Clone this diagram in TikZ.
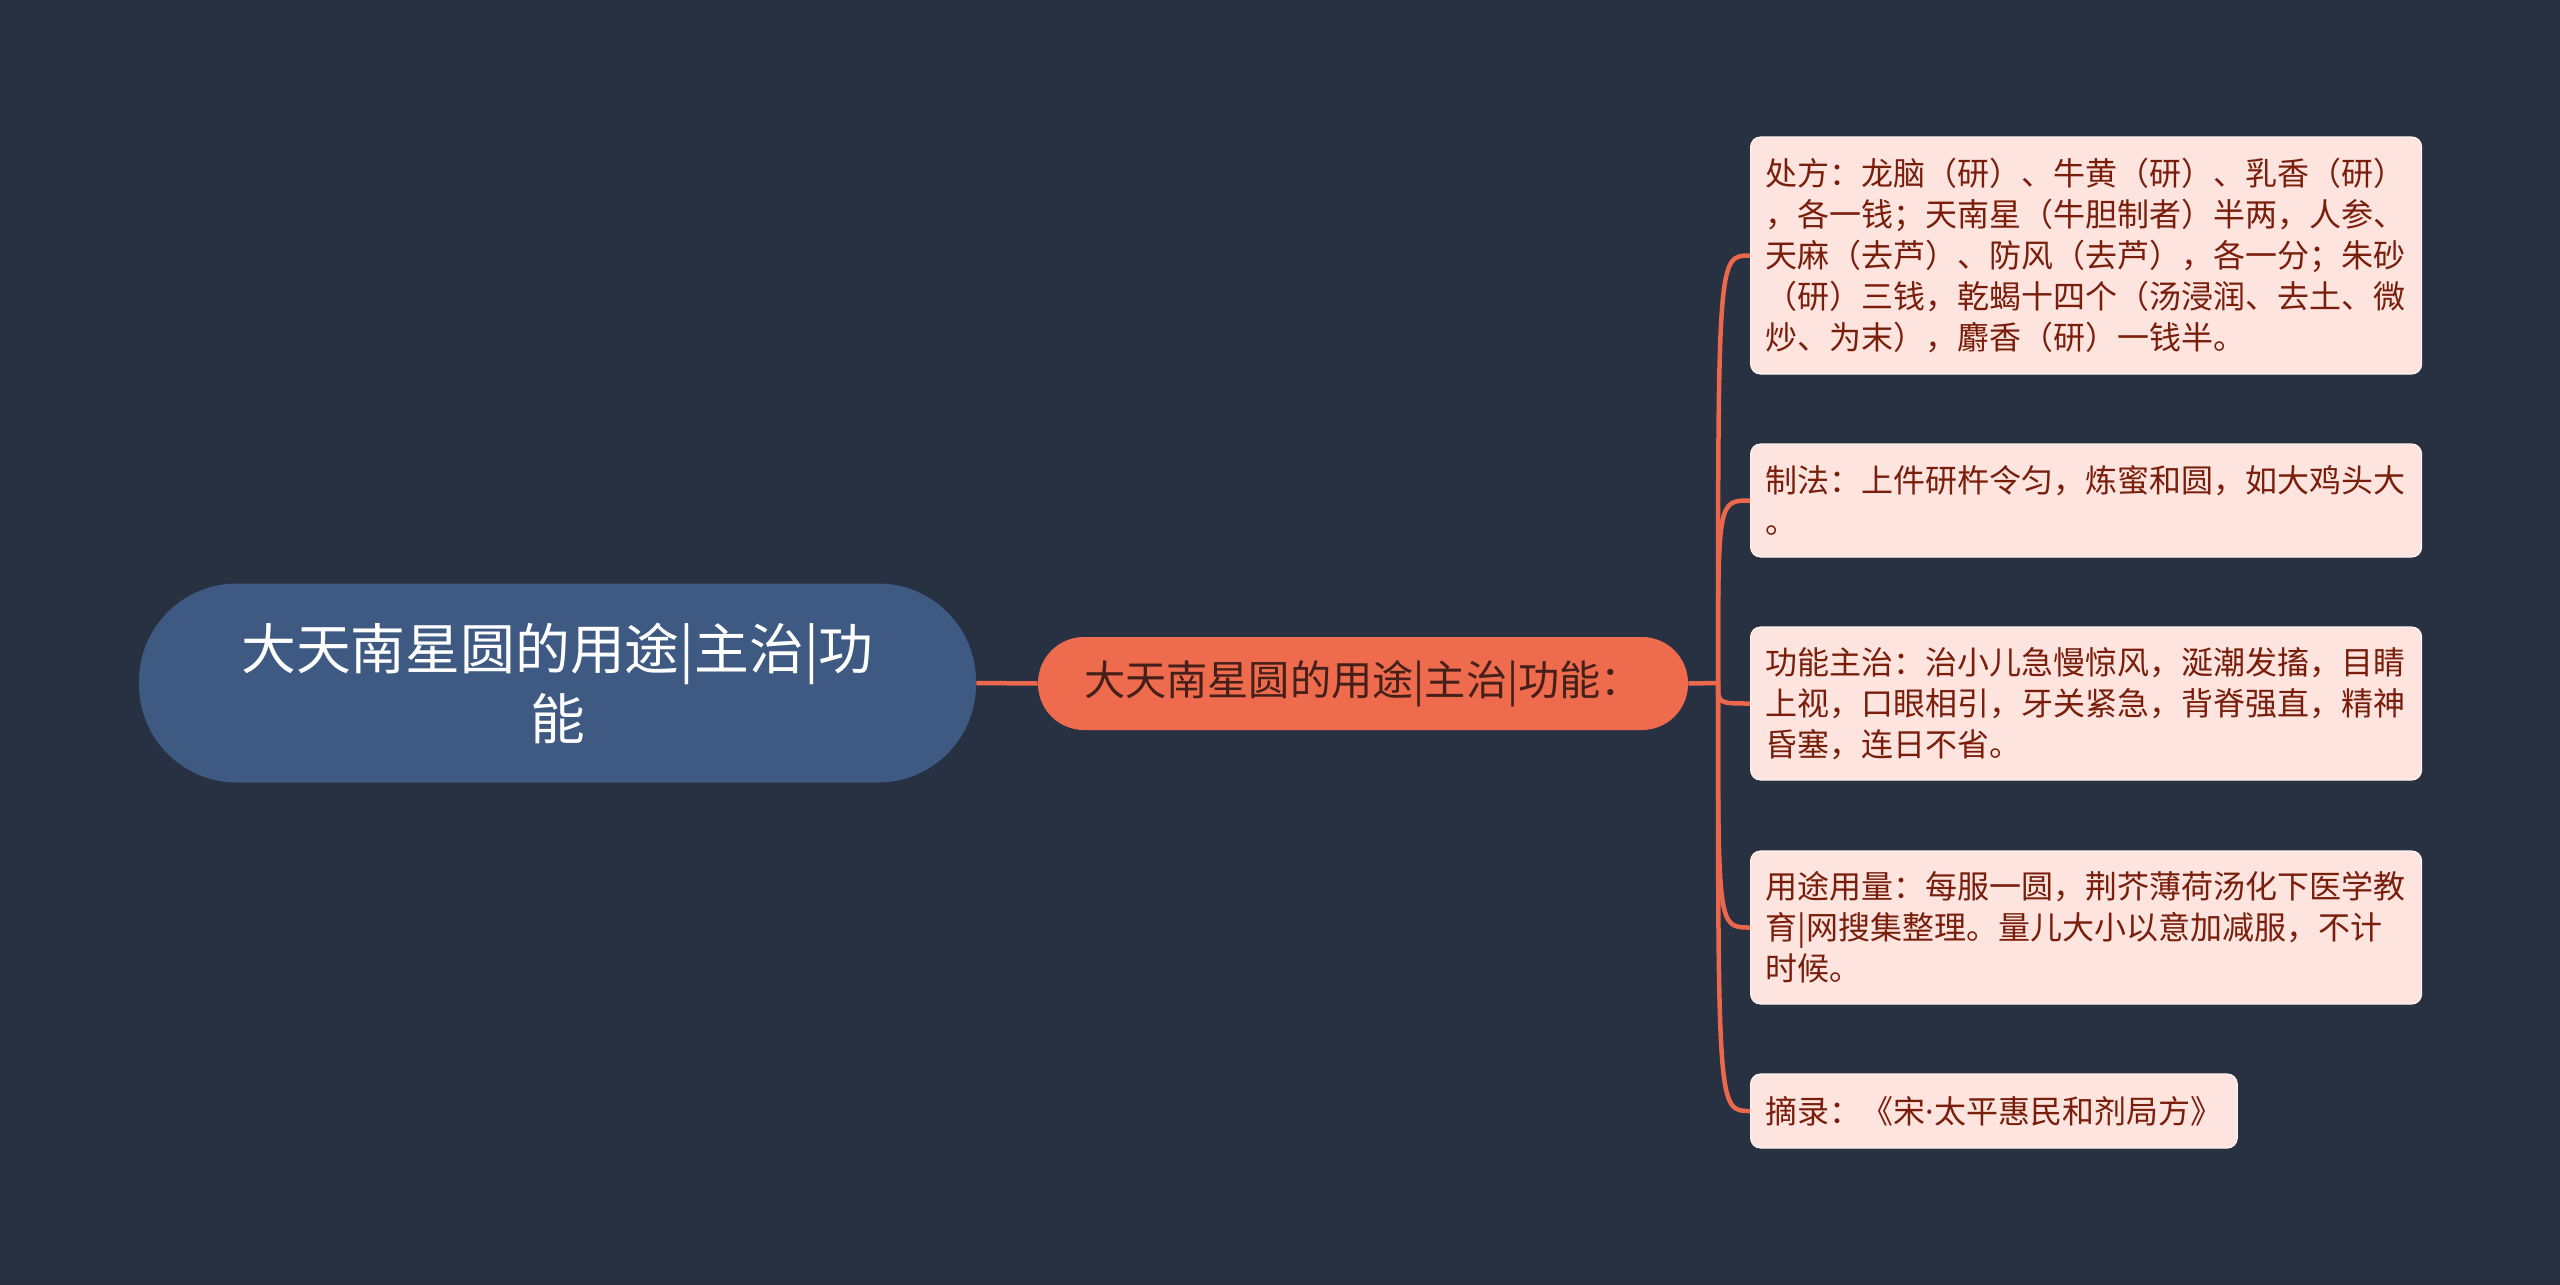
\documentclass[tikz,border=0pt]{standalone}
\usepackage{fontspec}
\setmainfont{Noto Sans CJK SC}
\newfontfamily\latinfont{Noto Sans}
\definecolor{bgcol}{HTML}{283142}
\definecolor{rootcol}{HTML}{3E5A82}
\definecolor{midcol}{HTML}{EE6B4D}
\definecolor{midtext}{HTML}{45201A}
\definecolor{leafcol}{HTML}{FDE4DE}
\definecolor{leaftext}{HTML}{7A1E0C}
\definecolor{linkcol}{HTML}{EC684C}

\begin{document}
\begin{tikzpicture}[x=0.5pt,y=-0.5pt,
    rootbox/.style={fill=rootcol,text=white,rounded corners=49pt,minimum width=418.5pt,minimum height=99.5pt,align=center,font=\fontsize{27.4}{35}\selectfont},
    midbox/.style={fill=midcol,text=midtext,rounded corners=23pt,minimum width=325pt,minimum height=46.5pt,font=\fontsize{20.6}{25}\selectfont},
    leafbox/.style={fill=leafcol,draw=white!55!leafcol,line width=0.6pt,text=leaftext,rounded corners=5pt,anchor=west,align=left,inner xsep=7.5pt,inner ysep=0pt,font=\fontsize{16}{20.5}\selectfont},
    wideleaf/.style={leafbox,text width=320.5pt},
    link/.style={draw=linkcol,line width=2.25pt}]

    \fill[bgcol] (0,0) rectangle (2560,1285);

    \node[rootbox] (root) at (557.5,683) {大天南星圆的用途|主治|功\\能};
    \node[midbox] (mid) at (1363,683.5) {大天南星圆的用途|主治|功能：};

    \begin{scope}[every node/.style={wideleaf}]
        \node[minimum height=118.5pt] (l1) at (1750,255.5) {处方：龙脑（研）、牛黄（研）、乳香（研）\\，各一钱；天南星（牛胆制者）半两，人参、\\天麻（去芦）、防风（去芦），各一分；朱砂\\（研）三钱，乾蝎十四个（汤浸润、去土、微\\炒、为末），麝香（研）一钱半。};
        \node[minimum height=56.5pt] (l2) at (1750,500.5) {制法：上件研杵令匀，炼蜜和圆，如大鸡头大\\。};
        \node[minimum height=76.5pt] (l3) at (1750,703.5) {功能主治：治小儿急慢惊风，涎潮发搐，目睛\\上视，口眼相引，牙关紧急，背脊强直，精神\\昏塞，连日不省。};
        \node[minimum height=76.5pt] (l4) at (1750,927.5) {用途用量：每服一圆，荆芥薄荷汤化下医学教\\育|网搜集整理。量儿大小以意加减服，不计\\时候。};
    \end{scope}
    \node[leafbox,minimum height=37pt] (l5) at (1750,1111) {摘录：《宋{\latinfont ·}太平惠民和剂局方》};

    \coordinate (fork) at (1718,683);
    \draw[link] (root.east) -- (mid.west);
    \draw[link] (mid.east) -- (fork);
    \foreach \n in {l1,l2,l3,l4,l5}
        \draw[link] (fork) .. controls (fork |- \n.west) .. (\n.west);
\end{tikzpicture}
\end{document}
